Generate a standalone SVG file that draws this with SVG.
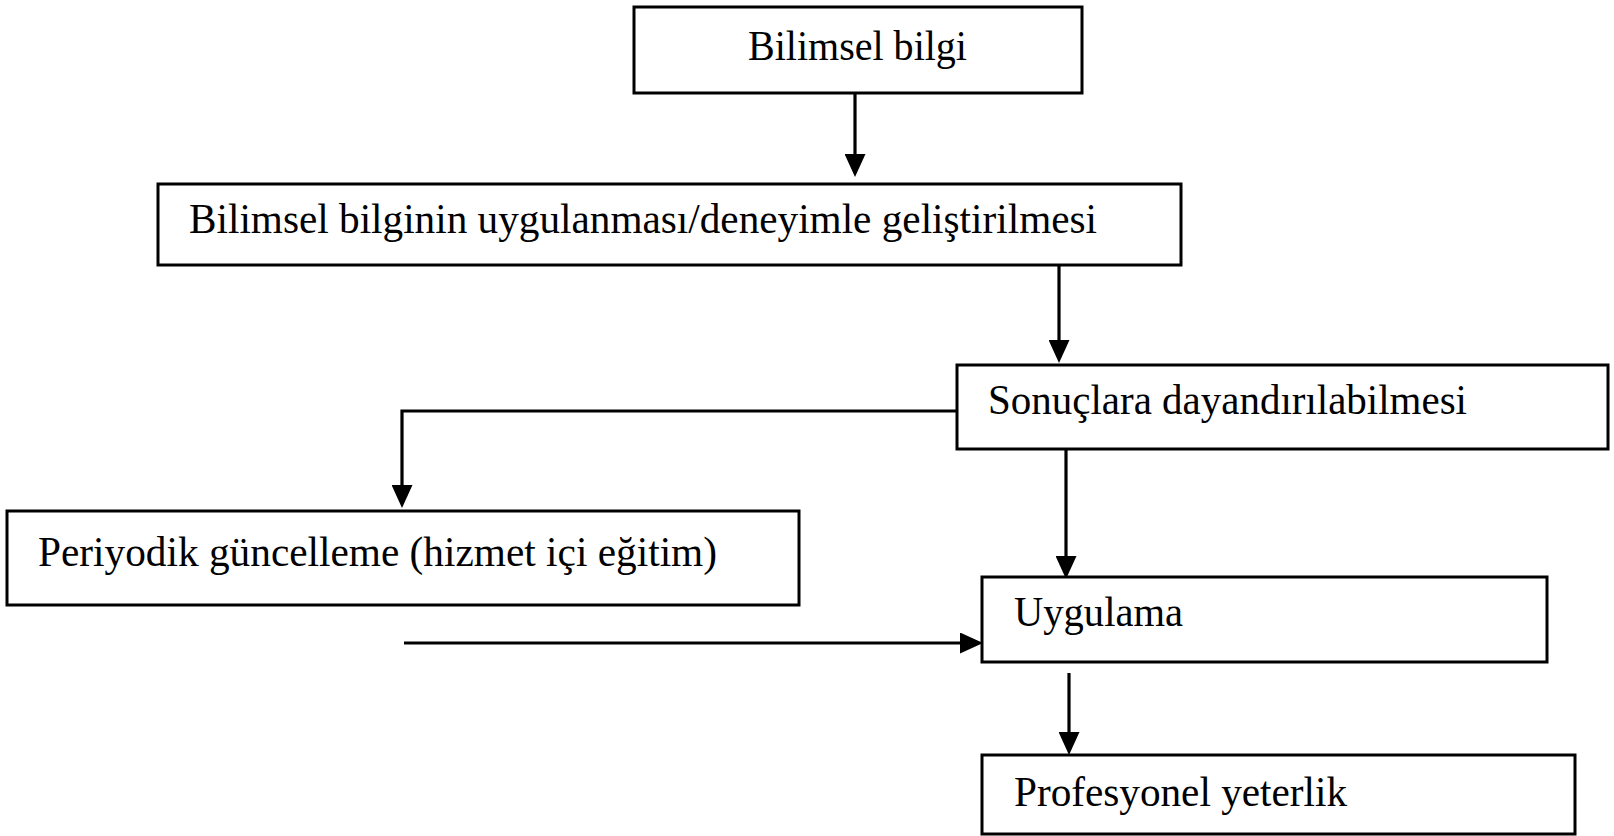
<svg xmlns="http://www.w3.org/2000/svg" width="1614" height="836" viewBox="0 0 1614 836">
<style>
.box{fill:#fff;stroke:#000;stroke-width:3}
.lbl{font-family:"Liberation Serif","Times New Roman",serif;font-size:42px;fill:#000}
.con{fill:none;stroke:#000;stroke-width:3.2}
</style>
<defs>
<marker id="ah" viewBox="0 0 23 21" refX="15" refY="10.5" markerWidth="23" markerHeight="21" markerUnits="userSpaceOnUse" orient="auto">
<path d="M0,0 L23,10.5 L0,21 z" fill="#000"/>
</marker>
</defs>
<rect width="1614" height="836" fill="#fff"/>
<g id="connectors">
<path class="con" d="M855 94 V169" marker-end="url(#ah)"/>
<path class="con" d="M1059 265 V355" marker-end="url(#ah)"/>
<path class="con" d="M957 411 H402 V500" marker-end="url(#ah)"/>
<path class="con" d="M1066 449 V571" marker-end="url(#ah)"/>
<path class="con" d="M404 643 H975" marker-end="url(#ah)"/>
<path class="con" d="M1069 673 V747" marker-end="url(#ah)"/>
</g>
<g id="node-bilimsel-bilgi">
<rect class="box" x="634" y="7" width="448" height="86"/>
<text class="lbl" x="748" y="60" textLength="219" lengthAdjust="spacingAndGlyphs">Bilimsel bilgi</text>
</g>
<g id="node-uygulanmasi">
<rect class="box" x="158" y="184" width="1023" height="81"/>
<text class="lbl" x="189" y="233" textLength="908" lengthAdjust="spacingAndGlyphs">Bilimsel bilginin uygulanması/deneyimle geliştirilmesi</text>
</g>
<g id="node-sonuclara">
<rect class="box" x="957" y="365" width="651" height="84"/>
<text class="lbl" x="988" y="414" textLength="479" lengthAdjust="spacingAndGlyphs">Sonuçlara dayandırılabilmesi</text>
</g>
<g id="node-periyodik">
<rect class="box" x="7" y="511" width="792" height="94"/>
<text class="lbl" x="38" y="566" textLength="679" lengthAdjust="spacingAndGlyphs">Periyodik güncelleme (hizmet içi eğitim)</text>
</g>
<g id="node-uygulama">
<rect class="box" x="982" y="577" width="565" height="85"/>
<text class="lbl" x="1014" y="626" textLength="169" lengthAdjust="spacingAndGlyphs">Uygulama</text>
</g>
<g id="node-profesyonel">
<rect class="box" x="982" y="755" width="593" height="79"/>
<text class="lbl" x="1014" y="806" textLength="333" lengthAdjust="spacingAndGlyphs">Profesyonel yeterlik</text>
</g>
</svg>
